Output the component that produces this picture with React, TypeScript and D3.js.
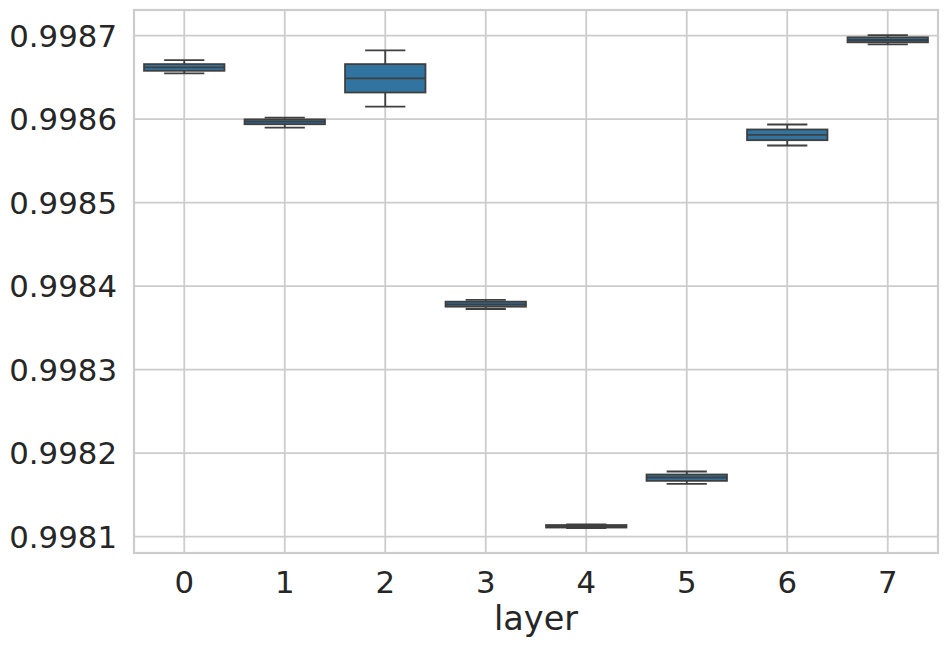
import React from "react";
import * as d3 from "d3";

const categories = ["0", "1", "2", "3", "4", "5", "6", "7"];
const whiskerHigh = [0.9986708, 0.998602, 0.9986825, 0.9983836, 0.9981148, 0.9981781, 0.9985937, 0.9987008];
const q3Values = [0.998666, 0.9985998, 0.998666, 0.9983815, 0.998114, 0.9981745, 0.9985877, 0.9986981];
const medians = [0.998662, 0.998597, 0.998649, 0.9983783, 0.9981125, 0.9981709, 0.9985812, 0.9986949];
const q1Values = [0.998658, 0.998594, 0.998632, 0.9983755, 0.998111, 0.9981669, 0.9985749, 0.9986921];
const whiskerLow = [0.998655, 0.99859, 0.998615, 0.9983727, 0.9981102, 0.9981634, 0.9985685, 0.9986897];
const yTicks = [0.9981, 0.9982, 0.9983, 0.9984, 0.9985, 0.9986, 0.9987];
const xLabel = "layer";

const W = 948;
const H = 648;
const M = { left: 134, right: 938, top: 10, bottom: 553 };

export default function App() {
  const x = d3.scaleBand<string>().domain(categories).range([M.left, M.right]).paddingInner(0).paddingOuter(0);
  const y = d3.scaleLinear().domain([0.9980805, 0.9987308]).range([M.bottom, M.top]);
  const bw = x.bandwidth();
  const boxW = bw * 0.8;
  const capW = boxW * 0.5;
  const grid = "#cccccc";
  const text = "#262626";
  const lineC = "#3f3f3f";
  const fill = "#3274a1";
  const font = "DejaVu Sans, sans-serif";

  return (
    <div style={{ position: "absolute", left: 0, top: 0 }}>
      <svg width={W} height={H} style={{ display: "block", background: "#fff" }}>
        {yTicks.map((t) => (
          <line key={"gy" + t} x1={M.left} x2={M.right} y1={y(t)} y2={y(t)} stroke={grid} strokeWidth={1.8} />
        ))}
        {categories.map((c) => {
          const cx = (x(c) as number) + bw / 2;
          return <line key={"gx" + c} x1={cx} x2={cx} y1={M.top} y2={M.bottom} stroke={grid} strokeWidth={1.8} />;
        })}
        {categories.map((c, i) => {
          const cx = (x(c) as number) + bw / 2;
          const yq3 = y(q3Values[i]);
          const yq1 = y(q1Values[i]);
          return (
            <g key={"b" + c}>
              <line x1={cx} x2={cx} y1={y(whiskerHigh[i])} y2={yq3} stroke={lineC} strokeWidth={1.8} />
              <line x1={cx} x2={cx} y1={yq1} y2={y(whiskerLow[i])} stroke={lineC} strokeWidth={1.8} />
              <line x1={cx - capW / 2} x2={cx + capW / 2} y1={y(whiskerHigh[i])} y2={y(whiskerHigh[i])} stroke={lineC} strokeWidth={1.8} />
              <line x1={cx - capW / 2} x2={cx + capW / 2} y1={y(whiskerLow[i])} y2={y(whiskerLow[i])} stroke={lineC} strokeWidth={1.8} />
              <rect x={cx - boxW / 2} y={yq3} width={boxW} height={Math.max(0, yq1 - yq3)} fill={fill} stroke={lineC} strokeWidth={1.8} />
              <line x1={cx - boxW / 2} x2={cx + boxW / 2} y1={y(medians[i])} y2={y(medians[i])} stroke={lineC} strokeWidth={1.8} />
            </g>
          );
        })}
        <rect x={M.left} y={M.top} width={M.right - M.left} height={M.bottom - M.top} fill="none" stroke={grid} strokeWidth={2.2} />
        {yTicks.map((t) => (
          <text key={"ty" + t} x={117} y={y(t)} dy="0.36em" textAnchor="end" fontFamily={font} fontSize={30.8} fill={text}>
            {d3.format(".4f")(t)}
          </text>
        ))}
        {categories.map((c) => (
          <text key={"tx" + c} x={(x(c) as number) + bw / 2} y={593} textAnchor="middle" fontFamily={font} fontSize={30.8} fill={text}>
            {c}
          </text>
        ))}
        <text x={(M.left + M.right) / 2} y={630} textAnchor="middle" fontFamily={font} fontSize={33.5} fill={text}>
          {xLabel}
        </text>
      </svg>
    </div>
  );
}
